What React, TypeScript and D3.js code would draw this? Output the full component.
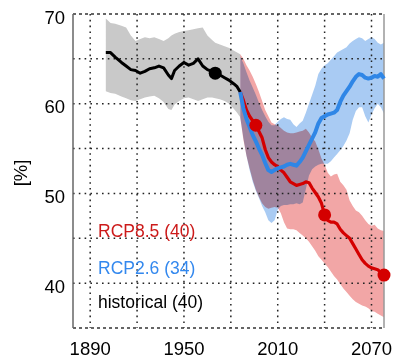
import React from "react";
import * as d3 from "d3";

const histYears = [1900, 1903, 1906, 1910, 1913, 1916, 1919, 1922, 1925, 1928, 1931, 1934, 1937, 1940, 1942, 1944, 1947, 1950, 1953, 1956, 1959, 1962, 1965, 1968, 1970, 1973, 1976, 1979, 1982, 1984, 1986];
const histMean = [65.7, 65.7, 65.2, 64.6, 64.2, 63.8, 63.7, 63.4, 63.6, 63.9, 64.0, 64.2, 64.0, 63.2, 62.8, 63.7, 64.2, 64.6, 64.3, 64.5, 65.0, 64.2, 63.8, 63.6, 63.4, 63.2, 62.9, 62.6, 62.2, 61.9, 61.3];
const histHi = [69.5, 69.0, 68.9, 68.7, 68.5, 67.6, 67.0, 67.2, 67.4, 67.3, 67.4, 67.2, 67.0, 67.3, 67.6, 67.8, 68.0, 68.1, 68.2, 68.3, 68.4, 68.5, 67.6, 67.1, 66.8, 66.6, 66.4, 66.2, 65.9, 65.7, 65.5];
const histLo = [61.4, 61.2, 61.1, 60.8, 60.6, 60.4, 60.3, 60.5, 60.7, 60.8, 60.9, 60.6, 60.2, 59.4, 59.3, 59.9, 60.3, 60.6, 60.7, 60.5, 60.3, 60.5, 60.7, 60.7, 60.6, 60.5, 60.3, 60.0, 59.4, 59.0, 58.5];

const rcpYears = [1986, 1988, 1990, 1992, 1994, 1996, 1998, 2000, 2002, 2004, 2006, 2008, 2010, 2012, 2014, 2016, 2018, 2020, 2022, 2024, 2026, 2028, 2030, 2032, 2034, 2036, 2038, 2040, 2042, 2044, 2046, 2048, 2050, 2052, 2054, 2056, 2058, 2060, 2062, 2064, 2066, 2068, 2070, 2072, 2074, 2076, 2078];

const r85Mean = [61.3, 60.4, 59.3, 58.6, 58.1, 57.6, 56.9, 56.2, 54.9, 54.0, 53.5, 53.2, 53.0, 52.6, 52.3, 51.8, 51.3, 51.1, 50.9, 51.0, 51.1, 51.3, 51.2, 50.6, 50.1, 49.6, 48.9, 47.6, 47.0, 46.8, 46.8, 46.6, 46.0, 45.6, 45.3, 45.0, 44.4, 43.8, 43.2, 42.6, 42.2, 41.9, 41.7, 41.6, 41.5, 41.2, 40.9];
const r85Hi = [65.5, 65.0, 64.3, 63.7, 63.0, 62.2, 61.3, 60.3, 59.3, 58.6, 57.9, 57.7, 57.6, 57.3, 57.0, 56.8, 56.7, 56.7, 56.8, 56.9, 57.0, 57.2, 56.8, 56.2, 55.8, 54.9, 53.9, 53.2, 52.3, 51.9, 52.1, 52.2, 51.3, 50.9, 50.4, 49.2, 48.6, 48.1, 47.9, 47.5, 47.0, 46.6, 46.4, 46.5, 46.1, 45.9, 45.8];
const r85Lo = [58.5, 56.0, 54.2, 52.8, 51.5, 50.4, 49.6, 48.9, 48.5, 48.3, 48.4, 48.5, 48.4, 47.8, 46.8, 46.1, 46.0, 46.0, 45.9, 45.6, 45.3, 45.0, 44.6, 44.1, 43.6, 43.0, 42.6, 42.2, 41.8, 41.3, 40.8, 40.4, 39.9, 39.4, 39.0, 38.6, 38.2, 37.9, 37.7, 37.5, 37.4, 37.2, 36.9, 36.8, 36.6, 36.4, 36.2];

const r26Mean = [61.3, 59.5, 58.3, 57.4, 56.5, 55.8, 55.0, 54.3, 53.4, 52.6, 52.4, 52.6, 52.8, 52.9, 53.0, 53.2, 53.3, 53.2, 53.1, 53.5, 54.0, 54.7, 55.4, 56.1, 56.8, 57.8, 58.4, 58.6, 58.8, 58.9, 59.0, 59.3, 60.2, 60.9, 61.4, 61.9, 62.5, 63.0, 63.3, 63.2, 62.9, 62.8, 62.9, 63.1, 63.0, 63.3, 62.8];
const r26Hi = [65.3, 64.5, 63.5, 62.6, 61.8, 61.0, 60.1, 59.3, 58.6, 58.0, 57.6, 57.6, 58.0, 58.3, 58.5, 58.3, 58.2, 57.7, 57.4, 57.8, 58.1, 59.0, 60.0, 61.0, 62.0, 63.3, 63.9, 64.3, 64.5, 64.9, 65.3, 65.7, 65.9, 66.1, 66.3, 66.7, 67.0, 67.2, 67.4, 67.3, 67.0, 67.2, 67.4, 67.2, 66.8, 66.6, 66.8];
const r26Lo = [58.5, 56.2, 54.2, 52.6, 51.3, 50.3, 49.5, 48.6, 47.9, 47.0, 46.7, 47.0, 48.2, 48.6, 48.7, 48.7, 48.8, 48.8, 48.9, 48.8, 49.0, 50.5, 52.0, 52.7, 53.0, 53.2, 53.3, 53.3, 53.3, 53.6, 54.0, 54.4, 54.8, 55.3, 55.9, 56.7, 58.2, 59.2, 59.6, 59.6, 58.6, 57.9, 58.8, 59.5, 60.0, 59.6, 58.9];

const histDotYears = [1970];
const r85DotYears = [1996, 2040, 2078];

const xTicks = [1890, 1950, 2010, 2070];
const xGrid = [1890, 1920, 1950, 1980, 2010, 2040, 2070];
const yTicks = [70, 60, 50, 40];
const yGrid = [65, 60, 55, 50, 45, 40];

const legendItems = ["RCP8.5 (40)", "RCP2.6 (34)", "historical (40)"];
const legendColors = ["#cc1a1a", "#3388ee", "#000000"];

const W = 393;
const H = 358;
const L = 73, R = 384, T = 14, B = 328;
const FONT = "'Liberation Sans', Arial, Helvetica, sans-serif";

export default function App() {
  const x = d3.scaleLinear().domain([1879, 2078]).range([L, R]);
  const y = d3.scaleLinear().domain([35, 70]).range([B, T]);

  const band = (years: number[], lo: number[], hi: number[]) =>
    d3.area<number>()
      .x((_, i) => x(years[i]))
      .y0((_, i) => y(lo[i]))
      .y1((_, i) => y(hi[i]))(years) || "";
  const line = (years: number[], vals: number[]) =>
    d3.line<number>()
      .x((_, i) => x(years[i]))
      .y((_, i) => y(vals[i]))(years) || "";

  const valAt = (years: number[], vals: number[], yr: number) => vals[years.indexOf(yr)];

  const gridStyle = { stroke: "#222", strokeWidth: 1.5, strokeDasharray: "1.6,4.2" };

  return (
    <svg width={W} height={H} style={{ position: "absolute", left: 0, top: 0, background: "#fff" }}>
      <path d={band(histYears, histLo, histHi)} fill="#c9c9c9" />
      <path d={band(rcpYears, r26Lo, r26Hi)} fill="#a9cbf3" />
      <path d={band(rcpYears, r85Lo, r85Hi)} fill="#f2a6a6" style={{ mixBlendMode: "multiply" }} />

      {yGrid.map((v) => (
        <line key={"yg" + v} x1={L} x2={R} y1={y(v)} y2={y(v)} {...gridStyle} />
      ))}
      {xGrid.map((v) => (
        <line key={"xg" + v} x1={x(v)} x2={x(v)} y1={T} y2={B} {...gridStyle} />
      ))}

      <line x1={L} x2={R} y1={T} y2={T} stroke="#333" strokeWidth={1.5} strokeDasharray="3,3" />
      <line x1={L} x2={R} y1={B} y2={B} stroke="#333" strokeWidth={1.5} strokeDasharray="3,3" />
      <line x1={L} x2={L} y1={T} y2={B} stroke="#666" strokeWidth={1.5} />
      <line x1={R} x2={R} y1={T} y2={B} stroke="#999" strokeWidth={1.5} />

      <path d={line(histYears, histMean)} fill="none" stroke="#000" strokeWidth={3} strokeLinejoin="round" />
      <path d={line(rcpYears, r85Mean)} fill="none" stroke="#d40000" strokeWidth={3.2} strokeLinejoin="round" />
      <path d={line(rcpYears, r26Mean)} fill="none" stroke="#2f86e6" strokeWidth={4} strokeLinejoin="round" />

      {histDotYears.map((yr) => (
        <circle key={"hd" + yr} cx={x(yr)} cy={y(valAt(histYears, histMean, yr))} r={6.5} fill="#000" />
      ))}
      {r85DotYears.map((yr) => (
        <circle key={"rd" + yr} cx={x(yr)} cy={y(valAt(rcpYears, r85Mean, yr))} r={6.5} fill="#d40000" />
      ))}

      {yTicks.map((v) => (
        <text key={"yt" + v} x={65} y={y(v) + 9.7} textAnchor="end" fontFamily={FONT} fontSize={18.5} fill="#000">
          {v}
        </text>
      ))}
      {xTicks.map((v) => (
        <text key={"xt" + v} x={x(v)} y={355} textAnchor="middle" fontFamily={FONT} fontSize={18.5} fill="#000">
          {v}
        </text>
      ))}
      <text transform={`translate(27,173) rotate(-90)`} textAnchor="middle" fontFamily={FONT} fontSize={18.5} fill="#000">
        [%]
      </text>

      {legendItems.map((t, i) => (
        <text key={t} x={98} y={[236.5, 273.5, 308][i]} fontFamily={FONT} fontSize={17.5} fill={legendColors[i]}>
          {t}
        </text>
      ))}
    </svg>
  );
}
